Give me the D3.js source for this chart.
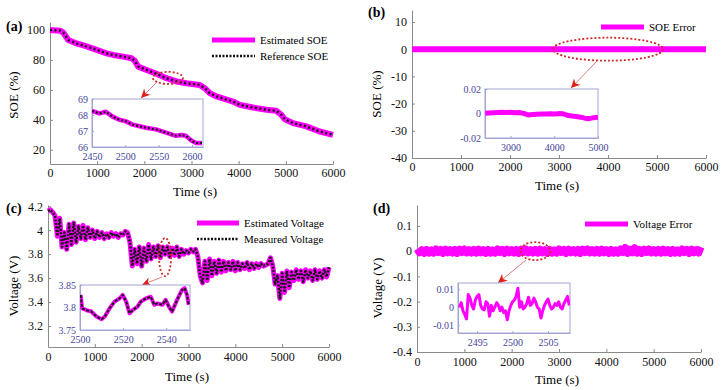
<!DOCTYPE html>
<html>
<head>
<meta charset="utf-8">
<script src="https://cdn.jsdelivr.net/npm/d3@7"></script>
<style>
body { margin: 0; background: #fff; }
svg { font-family: "Liberation Serif", "Times New Roman", serif; }
</style>
</head>
<body>
<script>
"use strict";
// ---- data ----
const soeTime = [0, 212, 282, 388, 565, 776, 988, 1200, 1341, 1553, 1729, 1800, 1870, 2047, 2259, 2470, 2682, 2894, 3176, 3282, 3388, 3529, 3882, 4024, 4306, 4588, 4800, 4906, 4976, 5153, 5435, 5718, 6000];
const soeValue = [100, 99.5, 98.2, 93.3, 91, 89, 86.7, 84.4, 83.3, 82.2, 81.1, 79.3, 75.5, 73.3, 70.7, 67.8, 65.6, 64.4, 63.3, 61.1, 57.8, 55.6, 52.2, 50, 48.2, 46.7, 46, 43.3, 40.4, 37.8, 35.6, 32.2, 30];
const soeZoomTime = [2450, 2461, 2471, 2481, 2491, 2501, 2511, 2531, 2546, 2561, 2576, 2584, 2591, 2599, 2606, 2615];
const soeZoomValue = [68.25, 68.1, 68.2, 67.9, 67.7, 67.6, 67.4, 67.2, 67.1, 66.9, 66.7, 66.75, 66.7, 66.4, 66.25, 66.25];

const soeErrTime = [0, 500, 1000, 1500, 2000, 2500, 3000, 3500, 4000, 4500, 5000, 5500, 6000];
const soeErrValue = [0, 0.001, 0.001, 0.0005, 0, 0.0005, 0.001, -0.0009, -0.0004, -0.0024, -0.003, -0.002, -0.001];
const soeErrZoomTime = [2420, 2500, 2600, 2700, 2800, 2900, 3000, 3100, 3200, 3300, 3400, 3500, 3600, 3700, 3800, 3900, 4000, 4100, 4200, 4300, 4400, 4500, 4600, 4700, 4800, 4900, 5000];
const soeErrZoomValue = [0.0003, 0.0005, 0.0007, 0.0009, 0.001, 0.0008, 0.001, 0.0006, 0.0008, 0.0001, -0.0012, -0.0009, -0.0007, -0.0005, -0.0004, -0.0003, -0.0004, -0.0001, -0.0002, -0.0015, -0.002, -0.0024, -0.003, -0.0038, -0.0042, -0.0034, -0.003];

// voltage sampled every 50 s
const voltTime = d3.range(0, 6001, 50);
const voltValue = [4.16, 4.17, 4.15, 4.12, 3.95, 4.10, 3.86, 3.98, 3.84, 4.05, 3.88, 4.06, 3.90, 4.03, 3.93, 4.04, 3.92, 4.02, 3.94, 4.00,
  3.93, 3.99, 3.94, 3.98, 3.93, 3.97, 3.94, 3.98, 3.95, 3.97, 3.94, 3.97, 3.96, 3.99, 3.98, 3.90, 3.70, 3.84, 3.72, 3.86,
  3.70, 3.85, 3.74, 3.88, 3.76, 3.86, 3.78, 3.87, 3.77, 3.86, 3.80, 3.86, 3.78, 3.85, 3.79, 3.86, 3.78, 3.84, 3.80, 3.83,
  3.81, 3.84, 3.82, 3.84, 3.78, 3.62, 3.56, 3.74, 3.58, 3.76, 3.62, 3.74, 3.64, 3.75, 3.65, 3.74, 3.66, 3.73, 3.67, 3.74,
  3.66, 3.73, 3.67, 3.72, 3.68, 3.73, 3.67, 3.72, 3.68, 3.72, 3.69, 3.72, 3.70, 3.71, 3.72, 3.77, 3.70, 3.55, 3.62, 3.43,
  3.64, 3.48, 3.66, 3.52, 3.65, 3.58, 3.67, 3.59, 3.66, 3.57, 3.67, 3.60, 3.66, 3.58, 3.67, 3.59, 3.66, 3.60, 3.67, 3.61, 3.69];
const voltZoomTime = [2500.3, 2501, 2503, 2505.3, 2507.6, 2510, 2511.5, 2513.7, 2516, 2518.3, 2519.8, 2521.4, 2523, 2524.4, 2526.7, 2528.2, 2530.5, 2532.8, 2534.4, 2535.9, 2538.2, 2539.7, 2541.2, 2542.7, 2545, 2547.3, 2548.5, 2549.6, 2550.4];
const voltZoomValue = [3.828, 3.798, 3.794, 3.791, 3.78, 3.774, 3.78, 3.798, 3.813, 3.82, 3.828, 3.813, 3.787, 3.794, 3.802, 3.813, 3.82, 3.824, 3.806, 3.809, 3.806, 3.817, 3.802, 3.791, 3.817, 3.839, 3.843, 3.828, 3.806];

const voltErrValue = [8, -7, 6, -9, 7, -8, 5, -8, 9, -6, 7, -9, 8, -7, 6, -8, 7, -9, 8, -6,
  9, -7, 6, -8, 7, -8, 8, -7, 6, -9, 7, -8, 5, -8, 9, -6, 7, -9, 8, -7,
  6, -8, 7, -9, 8, -6, 9, -7, 6, -8, 7, -8, 8, -7, 6, -9, 7, -8, 5, -8,
  9, -6, 7, -9, 8, -7, 6, -8, 7, -9, 8, -6, 9, -7, 6, -8, 7, -8, 8, -7,
  6, -9, 7, -8, 5, -8, 9, -6, 15, -9, 8, -7, 14, -8, 7, -9, 8, -6, 9, -7,
  6, -8, 7, -8, 8, -7, 6, -9, 7, -8, 5, -8, 9, -6, 7, -9, 8, -7, 6, -8, 16].map(v => v / 1000);
// zoomed voltage error sampled every 0.25 s from 2492.5 s
const voltErrZoomTime = d3.range(2492.5, 2508.01, 0.25);
const voltErrZoomValue = [0, 2.5, -2, -4, -6.5, 7, 5, 1, -1, 4, 6, 7, 1, -1, -1.5, 3, 2, -5, 1, -2,
  0, 2.5, 1, -2, 0, -3, -2, -7, -2, 1, 3, 4, 6, 10.5, 0, 3, -1, 0, 2, 5.5,
  1, 2, 5, 3, 0, -1, -6, -2, 1, 3, 4.5, 1, -1, 0, 2, 1, 3, 0, -1, 2, 4, 6, 1].map(v => v / 1000);

const timeTicks = [0, 1000, 2000, 3000, 4000, 5000, 6000];
const soeTicks = [20, 40, 60, 80, 100];
const soeErrTicks = [-40, -30, -20, -10, 0, 10];
const voltTicks = [3.2, 3.4, 3.6, 3.8, 4, 4.2];
const voltErrTicks = [-0.4, -0.3, -0.2, -0.1, 0, 0.1];

const MAG = "#ff00ff";
const RED = "#cc2b2b";
const INK = "#45459a";

const svg = d3.select("body").append("svg").attr("width", 722).attr("height", 390);
svg.append("defs").append("marker")
  .attr("id", "arrow").attr("viewBox", "0 0 10 10")
  .attr("refX", 10).attr("refY", 5)
  .attr("markerWidth", 10).attr("markerHeight", 9)
  .attr("markerUnits", "userSpaceOnUse")
  .attr("orient", "auto")
  .append("path").attr("d", "M0,0 L10,5 L0,10 L3,5 Z").attr("fill", "#e0201c");

let clipId = 0;
const fmt = d => String(d);

function styleAxis(g, col, txt, size) {
  // drop d3's sans-serif default so the serif face applies
  g.attr("font-family", null).attr("font-size", size);
  g.select(".domain").attr("stroke", col);
  g.selectAll(".tick line").attr("stroke", col);
  g.selectAll(".tick text").attr("fill", txt);
}

function mainAxes(p, x, y) {
  const gx = svg.append("g").attr("transform", "translate(0," + y.range()[0] + ")")
    .call(d3.axisBottom(x).tickValues(timeTicks).tickFormat(fmt).tickSize(-3).tickSizeOuter(0).tickPadding(p.pad));
  styleAxis(gx, "#8a8a8a", "#111", 12);
  const gy = svg.append("g").attr("transform", "translate(" + x.range()[0] + ",0)")
    .call(d3.axisLeft(y).tickValues(p.yTicks).tickFormat(fmt).tickSize(-3).tickSizeOuter(0).tickPadding(5));
  styleAxis(gy, "#8a8a8a", "#111", 12);
  svg.append("text").attr("x", p.tag[0]).attr("y", p.tag[1]).attr("font-weight", "bold").attr("font-size", 14).text(p.label);
  svg.append("text").attr("transform", "translate(" + p.yTitle[0] + "," + p.yTitle[1] + ") rotate(-90)")
    .attr("text-anchor", "middle").attr("dy", "0.35em").attr("font-size", 13).text(p.yName);
  svg.append("text").attr("x", p.xTitle[0]).attr("y", p.xTitle[1]).attr("text-anchor", "middle").attr("font-size", 13).text("Time (s)");
}

function inset(box, xDom, yDom, xTicks, yTicks) {
  const x = d3.scaleLinear().domain(xDom).range([box[0], box[1]]);
  const y = d3.scaleLinear().domain(yDom).range([box[3], box[2]]);
  svg.append("rect").attr("x", box[0]).attr("y", box[2]).attr("width", box[1] - box[0]).attr("height", box[3] - box[2])
    .attr("fill", "#fff").attr("stroke", "#a4a4d4");
  const gx = svg.append("g").attr("transform", "translate(0," + box[3] + ")")
    .call(d3.axisBottom(x).tickValues(xTicks).tickFormat(fmt).tickSize(-2).tickSizeOuter(0).tickPadding(6));
  styleAxis(gx, "#a4a4d4", INK, 10);
  const gy = svg.append("g").attr("transform", "translate(" + box[0] + ",0)")
    .call(d3.axisLeft(y).tickValues(yTicks).tickFormat(fmt).tickSize(-2).tickSizeOuter(0).tickPadding(4));
  styleAxis(gy, "#a4a4d4", INK, 10);
  const id = "clip" + (clipId++);
  svg.append("clipPath").attr("id", id).append("rect")
    .attr("x", box[0]).attr("y", box[2]).attr("width", box[1] - box[0]).attr("height", box[3] - box[2]);
  return { x, y, g: svg.append("g").attr("clip-path", "url(#" + id + ")") };
}

function drawLine(g, x, y, xs, ys, col, w, dash) {
  const line = d3.line().x((d, i) => x(xs[i])).y(d => y(d));
  const p = g.append("path").datum(ys).attr("d", line).attr("fill", "none")
    .attr("stroke", col).attr("stroke-width", w).attr("stroke-linejoin", "round");
  if (dash) p.attr("stroke-dasharray", dash);
  return p;
}

function legend(items, x0, x1, y0) {
  items.forEach((it, i) => {
    const yy = y0 + i * 16;
    const l = svg.append("line").attr("x1", x0).attr("x2", x1).attr("y1", yy).attr("y2", yy)
      .attr("stroke", it.col).attr("stroke-width", it.w);
    if (it.dash) l.attr("stroke-dasharray", it.dash);
    svg.append("text").attr("x", x1 + 5).attr("y", yy).attr("dy", "0.35em").attr("font-size", 11).text(it.name);
  });
}

function callout(cx, cy, rx, ry, from, to) {
  svg.append("ellipse").attr("cx", cx).attr("cy", cy).attr("rx", rx).attr("ry", ry)
    .attr("fill", "none").attr("stroke", RED).attr("stroke-width", 1.8).attr("stroke-dasharray", "2,2");
  svg.append("line").attr("x1", from[0]).attr("y1", from[1]).attr("x2", to[0]).attr("y2", to[1])
    .attr("stroke", "#d06060").attr("stroke-width", 0.8).attr("marker-end", "url(#arrow)");
}

// ---- (a) SOE ----
{
  const x = d3.scaleLinear().domain([0, 6000]).range([50, 333]);
  const y = d3.scaleLinear().domain([10.5, 105.3]).range([164, 22]);
  mainAxes({ yTicks: soeTicks, pad: 4, tag: [6, 31], label: "(a)", yName: "SOE (%)", yTitle: [13, 95], xTitle: [195, 196] }, x, y);
  drawLine(svg, x, y, soeTime, soeValue, MAG, 6);
  drawLine(svg, x, y, soeTime, soeValue, "#1a1a1a", 2.5, "2,2.5");
  callout(x(2500), y(68), 15, 6, [157, 82], [141, 98]);
  const ins = inset([92, 203, 99, 147], [2450, 2616.5], [66, 69], [2450, 2500, 2550, 2600], [66, 67, 68, 69]);
  drawLine(ins.g, ins.x, ins.y, soeZoomTime, soeZoomValue, MAG, 4.5);
  drawLine(ins.g, ins.x, ins.y, soeZoomTime, soeZoomValue, "#1a1a1a", 2.2, "2,2");
  legend([{ name: "Estimated SOE", col: MAG, w: 5 }, { name: "Reference SOE", col: "#111", w: 2.5, dash: "2,1.5" }], 212, 255, 40);
}

// ---- (b) SOE error ----
{
  const x = d3.scaleLinear().domain([0, 6000]).range([412, 706]);
  const y = d3.scaleLinear().domain([-40, 14.4]).range([158, 10]);
  mainAxes({ yTicks: soeErrTicks, pad: 4, tag: [368, 17], label: "(b)", yName: "SOE (%)", yTitle: [376, 94], xTitle: [557, 190] }, x, y);
  drawLine(svg, x, y, soeErrTime, soeErrValue, MAG, 6);
  callout(x(4000), y(0), 55, 11.5, [598, 60], [571, 88]);
  const ins = inset([485, 598, 89, 138], [2416, 5000], [-0.02, 0.02], [3000, 4000, 5000], [-0.02, 0, 0.02]);
  drawLine(ins.g, ins.x, ins.y, soeErrZoomTime, soeErrZoomValue, MAG, 5);
  legend([{ name: "SOE Error", col: MAG, w: 5 }], 601, 644, 27);
}

// ---- (c) voltage ----
{
  const x = d3.scaleLinear().domain([0, 6000]).range([48, 329]);
  const y = d3.scaleLinear().domain([3.025, 4.21]).range([347, 205]);
  mainAxes({ yTicks: voltTicks, pad: 5, tag: [6, 213], label: "(c)", yName: "Voltage (V)", yTitle: [13, 286], xTitle: [187, 381] }, x, y);
  drawLine(svg, x, y, voltTime, voltValue, MAG, 5);
  drawLine(svg, x, y, voltTime, voltValue, "#1a1a1a", 2.5, "2,1.5");
  callout(x(2500), y(3.775), 6, 19, [162, 277], [142, 285]);
  const ins = inset([80, 190, 285, 330], [2500, 2551], [3.75, 3.85], [2500, 2520, 2540], [3.75, 3.8, 3.85]);
  drawLine(ins.g, ins.x, ins.y, voltZoomTime, voltZoomValue, MAG, 4);
  drawLine(ins.g, ins.x, ins.y, voltZoomTime, voltZoomValue, "#1a1a1a", 2, "3,1.5");
  legend([{ name: "Estimated Voltage", col: MAG, w: 5 }, { name: "Measured Voltage", col: "#111", w: 2.5, dash: "2,1.5" }], 197, 239, 223);
}

// ---- (d) voltage error ----
{
  const x = d3.scaleLinear().domain([0, 6000]).range([417, 701]);
  const y = d3.scaleLinear().domain([-0.4, 0.183]).range([352, 205]);
  mainAxes({ yTicks: voltErrTicks, pad: 5, tag: [373, 213], label: "(d)", yName: "Voltage (V)", yTitle: [377, 288], xTitle: [557, 384] }, x, y);
  drawLine(svg, x, y, voltTime, voltErrValue, MAG, 7);
  callout(x(2500), y(0), 15, 9, [526, 260], [498, 283]);
  const ins = inset([458, 570, 283, 333], [2492.3, 2508.1], [-0.0143, 0.0134], [2495, 2500, 2505], [-0.01, 0, 0.01]);
  drawLine(ins.g, ins.x, ins.y, voltErrZoomTime, voltErrZoomValue, MAG, 3);
  legend([{ name: "Voltage Error", col: MAG, w: 5 }], 585, 628, 224);
}
</script>
</body>
</html>
